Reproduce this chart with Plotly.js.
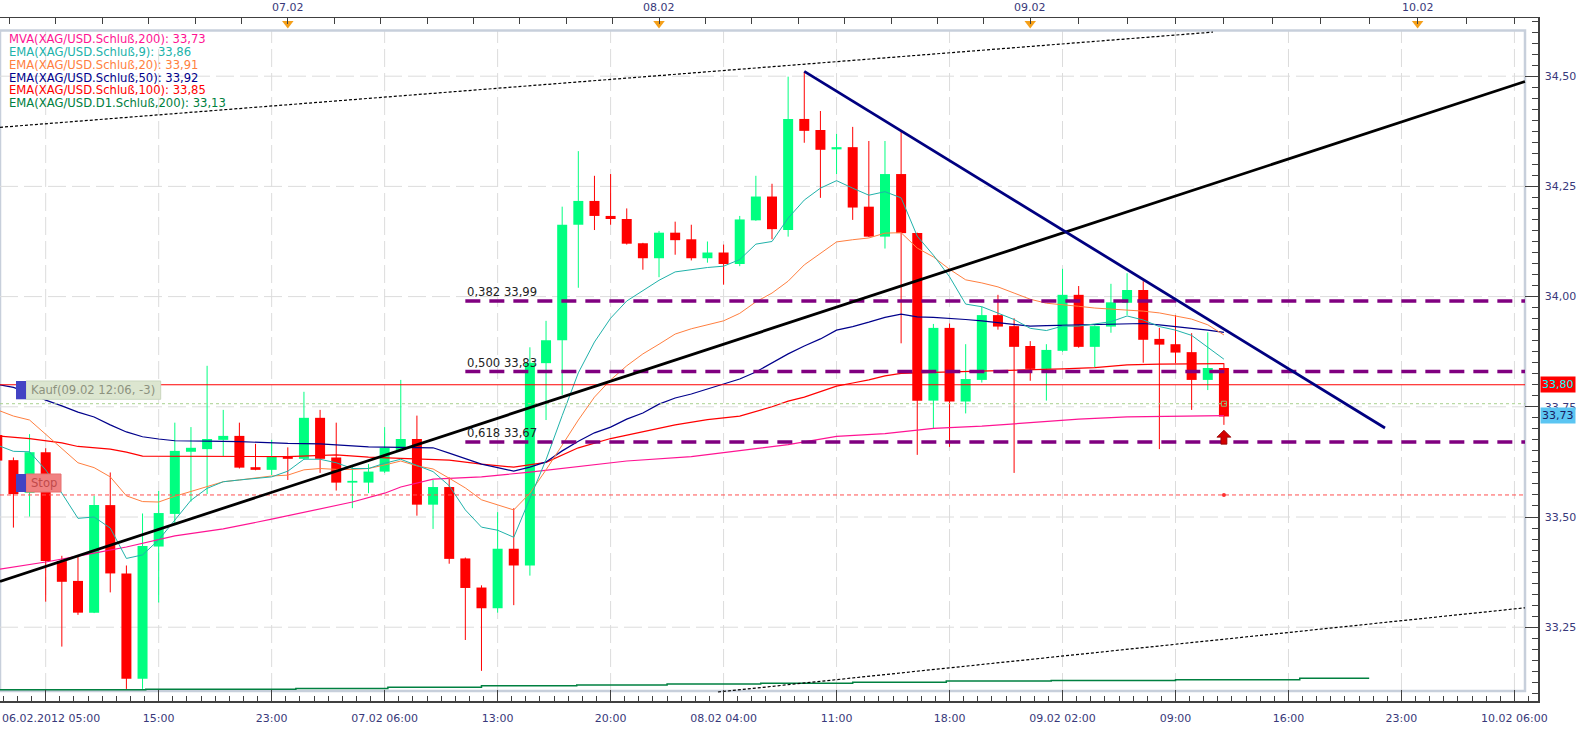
<!DOCTYPE html>
<html><head><meta charset="utf-8">
<script src="https://cdn.plot.ly/plotly-3.0.1.min.js"></script>
<style>html,body{margin:0;padding:0;background:#fff;overflow:hidden}#chart{width:1594px;height:730px}</style>
</head><body><div id="chart"></div>
<script>
// ================= DATA =================
// hourly candle slots (0 = 06.02.2012 05:00)
const idx = [-3,-2,-1,0,1,2,3,4,5,6,7,8,9,10,11,12,13,14,15,16,17,18,19,20,21,22,23,24,25,26,27,28,29,30,31,32,33,34,35,36,37,38,39,40,41,42,43,44,45,46,47,48,49,50,51,52,53,54,55,56,57,58,59,60,61,62,63,64,65,66,67,68,69,70,71,72,73];
const open = [33.686,33.629,33.555,33.647,33.400,33.355,33.283,33.527,33.372,33.133,33.433,33.507,33.648,33.654,33.675,33.684,33.613,33.607,33.638,33.632,33.725,33.635,33.578,33.578,33.603,33.652,33.677,33.528,33.568,33.406,33.340,33.293,33.428,33.390,33.849,33.901,34.163,34.217,34.183,34.176,34.121,34.087,34.145,34.130,34.087,34.100,34.074,34.173,34.227,34.151,34.403,34.378,34.334,34.339,34.204,34.136,34.278,34.144,33.764,33.929,33.762,33.811,33.958,33.933,33.888,33.836,33.877,34.004,33.886,33.932,33.986,34.015,33.904,33.892,33.874,33.811,33.838];
const high = [33.700,33.635,33.688,33.656,33.412,33.410,33.548,33.601,33.390,33.508,33.559,33.714,33.704,33.843,33.743,33.714,33.666,33.675,33.658,33.784,33.743,33.714,33.616,33.620,33.704,33.811,33.730,33.584,33.590,33.408,33.345,33.511,33.520,33.885,33.945,34.204,34.330,34.274,34.278,34.200,34.122,34.149,34.170,34.163,34.125,34.118,34.183,34.274,34.256,34.499,34.510,34.421,34.369,34.385,34.353,34.353,34.374,34.145,33.938,33.939,33.892,33.977,34.004,33.951,33.899,33.892,34.063,34.024,33.935,34.029,34.053,34.035,33.929,33.958,33.917,33.919,33.849];
const low = [33.620,33.476,33.501,33.308,33.206,33.278,33.282,33.329,33.110,33.110,33.306,33.482,33.535,33.552,33.638,33.610,33.606,33.595,33.584,33.630,33.600,33.560,33.520,33.554,33.600,33.650,33.503,33.473,33.394,33.221,33.151,33.283,33.300,33.367,33.720,33.777,34.020,34.151,34.163,34.118,34.061,34.044,34.095,34.082,34.077,34.027,34.069,34.172,34.130,34.136,34.349,34.224,34.278,34.174,34.135,34.109,33.894,33.641,33.701,33.659,33.735,33.805,33.925,33.600,33.809,33.764,33.875,33.884,33.840,33.918,33.958,33.850,33.654,33.849,33.743,33.788,33.709];
const close = [33.628,33.552,33.647,33.400,33.353,33.283,33.527,33.372,33.133,33.434,33.509,33.650,33.657,33.677,33.684,33.612,33.607,33.637,33.632,33.725,33.632,33.578,33.582,33.603,33.657,33.677,33.528,33.568,33.405,33.339,33.293,33.428,33.390,33.850,33.901,34.163,34.217,34.183,34.176,34.120,34.087,34.145,34.128,34.087,34.100,34.074,34.175,34.227,34.153,34.403,34.376,34.333,34.339,34.202,34.136,34.278,34.144,33.764,33.929,33.762,33.813,33.958,33.932,33.886,33.836,33.879,34.004,33.886,33.933,33.987,34.015,33.902,33.891,33.873,33.811,33.838,33.728];

// moving averages (read at candle slots)
const ema9 = [33.663,33.649,33.648,33.607,33.554,33.497,33.500,33.475,33.406,33.414,33.448,33.493,33.538,33.565,33.580,33.584,33.588,33.591,33.604,33.631,33.631,33.623,33.610,33.610,33.622,33.631,33.617,33.603,33.571,33.516,33.477,33.470,33.454,33.540,33.630,33.730,33.827,33.897,33.951,33.990,34.013,34.037,34.056,34.061,34.066,34.069,34.084,34.119,34.125,34.178,34.219,34.246,34.263,34.246,34.230,34.238,34.224,34.137,34.094,34.045,33.983,33.977,33.962,33.948,33.928,33.923,33.933,33.933,33.938,33.943,33.956,33.947,33.932,33.924,33.912,33.886,33.858];
const ema20 = [33.743,33.729,33.720,33.688,33.657,33.623,33.612,33.591,33.548,33.535,33.534,33.547,33.558,33.569,33.580,33.584,33.588,33.593,33.595,33.607,33.610,33.608,33.608,33.610,33.618,33.627,33.616,33.609,33.588,33.566,33.539,33.527,33.516,33.554,33.607,33.663,33.720,33.772,33.811,33.843,33.870,33.892,33.915,33.927,33.936,33.945,33.962,33.988,34.008,34.035,34.072,34.099,34.124,34.129,34.133,34.144,34.145,34.110,34.090,34.062,34.038,34.031,34.022,34.008,33.994,33.985,33.982,33.978,33.974,33.972,33.970,33.967,33.963,33.956,33.949,33.936,33.913];
const ema50X = [-3,-2,-1,0,1,2,3,4,5,6,7,8,10,12,15,17,20,22,23,24,25,26,27,28,29,30,31,32,33,34,35,36,37,38,39,40,41,42,43,44,45,46,47,48,49,50,51,52,53,54,55,56,57,58,59,60,61,62,64,66,68,69,70,71,72,73];
const ema50 = [33.801,33.794,33.781,33.765,33.752,33.738,33.727,33.709,33.693,33.682,33.677,33.673,33.672,33.671,33.667,33.666,33.659,33.658,33.659,33.657,33.645,33.632,33.620,33.612,33.604,33.613,33.625,33.650,33.672,33.691,33.704,33.722,33.736,33.756,33.770,33.779,33.790,33.802,33.813,33.829,33.849,33.870,33.888,33.904,33.924,33.932,33.942,33.953,33.960,33.954,33.953,33.951,33.948,33.945,33.941,33.938,33.933,33.934,33.936,33.937,33.939,33.936,33.932,33.929,33.924,33.919];
const ema100X = [-3,-1,1,2,4,5,6,10,15,18,20,22,25,27,29,31,33,35,37,39,41,43,45,46,47,48,49,50,51,52,53,55,57,60,63,65,67,69,73];
const ema100 = [33.684,33.678,33.668,33.660,33.654,33.647,33.638,33.637,33.637,33.641,33.636,33.633,33.629,33.620,33.613,33.624,33.657,33.678,33.693,33.709,33.721,33.729,33.750,33.763,33.772,33.784,33.797,33.804,33.811,33.820,33.826,33.828,33.830,33.832,33.836,33.839,33.845,33.847,33.848];
const mva200X = [-3,0,3,5,8,11,14,17,19,21,22,24,27,30,33,36,40,43,46,49,52,55,58,61,64,67,70,73];
const mva200 = [33.381,33.398,33.418,33.432,33.457,33.473,33.495,33.519,33.534,33.554,33.568,33.586,33.591,33.602,33.615,33.627,33.637,33.650,33.664,33.683,33.689,33.701,33.706,33.714,33.722,33.727,33.729,33.730];
const d1X = [-3,6.2,15.5,21.2,27.0,32.9,38.5,44.3,50.0,55.8,62.3,70.0,77.7,82.0];
const d1 = [33.108,33.109,33.111,33.114,33.117,33.119,33.121,33.123,33.125,33.128,33.129,33.131,33.134,33.134];

const maNames = ["MVA(XAG/USD.Schluß,200)","EMA(XAG/USD.Schluß,9)","EMA(XAG/USD.Schluß,20)","EMA(XAG/USD.Schluß,50)","EMA(XAG/USD.Schluß,100)","EMA(XAG/USD.D1.Schluß,200)"];

// drawn tools
const trendBlackX = [-2.83, 91.65], trendBlackY = [33.354, 34.488];
const trendNavyX = [47, 82.98], trendNavyY = [34.511, 33.702];
const channelUpX = [-2.83, 72.32], channelUpY = [34.384, 34.600];
const channelLowX = [41.65, 91.65], channelLowY = [33.103, 33.294];
const fibLevels = [33.99, 33.83, 33.67];
const fibRatios = ["0,382", "0,500", "0,618"];
const fibStart = 26;
const kaufLevel = 33.80, priceLevel = 33.757, stopLevel = 33.55, lastTag = 33.73;
const kaufText = "Kauf(09.02 12:06, -3)", stopText = "Stop";
const arrowSlot = 73, arrowTip = 33.697;

// axis labels
const tickIdx = [0,7,14,21,28,35,42,49,56,63,70,77,84,91];
const tickLabels = ["06.02.2012 05:00","15:00","23:00","07.02 06:00","13:00","20:00","08.02 04:00","11:00","18:00","09.02 02:00","09:00","16:00","23:00","10.02 06:00"];
const dayIdx = [15,38,61,85];
const dayLabels = ["07.02","08.02","09.02","10.02"];

// ================= LAYOUT HELPERS =================
const PW = 1538, PT = 18, PB = 701;
const xRange = [-2.8315, -2.8315 + 1538/16.14];
const yRange = [33.0826, 34.6320];
const frame = {left: 0, right: 1525, top: 30.5, bottom: 691};
const ix = p => xRange[0] + p*(xRange[1]-xRange[0])/PW;
const pxOf = i => (i - xRange[0])*PW/(xRange[1]-xRange[0]);
const vy = p => yRange[1] - (p-PT)*(yRange[1]-yRange[0])/(PB-PT);
const paperX = p => p/PW;
const paperY = p => (PB-p)/(PB-PT);
const fmt = v => v.toFixed(2).replace('.', ',');

const GREEN = '#00ff80', RED = '#ff0000';
const AXC = '#404040', TXT = '#38387a', FONT = 'DejaVu Sans';
const frameRightIdx = ix(frame.right);

const bull = idx.map((_, k) => close[k] >= open[k]);
function wick(up){
  const x=[], y=[];
  idx.forEach((v,k)=>{ if(bull[k]===up){ x.push(v,v,null); y.push(low[k],high[k],null);} });
  return {type:'scatter', mode:'lines', x, y, line:{color: up?GREEN:RED, width:1}, hoverinfo:'skip'};
}
function body(up){
  const x=[], b=[], h=[];
  idx.forEach((v,k)=>{ if(bull[k]===up){ x.push(v); b.push(Math.min(open[k],close[k])); h.push(Math.abs(close[k]-open[k])); } });
  return {type:'bar', x, base:b, y:h, width:0.62, marker:{color: up?GREEN:RED, line:{width:0}}, hoverinfo:'skip'};
}
const line = (x, y, color, width, dash, shape) => ({type:'scatter', mode:'lines', x, y, line:{color, width, dash: dash||'solid', shape: shape||'linear'}, hoverinfo:'skip'});
const hline = (v, color, width, dash) => line([xRange[0], frameRightIdx], [v, v], color, width, dash);

const maColors = ['#ff1493','#20b2aa','#ff7f40','#00008b','#ff0000','#008040'];
const maLast = [mva200[mva200.length-1], ema9[ema9.length-1], ema20[ema20.length-1], ema50[ema50.length-1], ema100[ema100.length-1], d1[d1.length-1]];

const traces = [
  line(d1X, d1, maColors[5], 1.5, 'solid', 'hv'),
  wick(true), wick(false), body(true), body(false),
  line(mva200X, mva200, maColors[0], 1.2),
  line(ema100X, ema100, maColors[4], 1.2),
  line(ema50X, ema50, maColors[3], 1.2),
  line(idx, ema20, maColors[2], 1),
  line(idx, ema9, maColors[1], 1),
  hline(priceLevel, '#a9d18e', 1, '3px,3px'),
  hline(stopLevel, '#ff5050', 1, '4px,3px'),
  hline(kaufLevel, '#ff0000', 1.2),
];
fibLevels.forEach(v => traces.push(line([fibStart, frameRightIdx], [v, v], '#800080', 3.5, '15px,9px')));
traces.push(line(channelUpX, channelUpY, '#000000', 1.2, '3px,2px'));
traces.push(line(channelLowX, channelLowY, '#000000', 1.2, '3px,2px'));
traces.push(line(trendBlackX, trendBlackY, '#000000', 2.8));
traces.push(line(trendNavyX, trendNavyY, '#000080', 2.8));
traces.push({type:'scatter', mode:'markers', x:[arrowSlot], y:[priceLevel], marker:{symbol:'square-open', size:5, color:'#8fbf70'}, hoverinfo:'skip'});
traces.push({type:'scatter', mode:'markers', x:[arrowSlot], y:[stopLevel], marker:{symbol:'circle', size:4, color:'#ff3030'}, hoverinfo:'skip'});
traces.push({type:'scatter', mode:'markers', xaxis:'x2', x:dayIdx, y:dayIdx.map(()=>vy(23.5)), cliponaxis:false,
  marker:{symbol:'triangle-down', size:10, color:'#f5a01a', line:{width:0}}, hoverinfo:'skip'});

// top-axis 3-hour ticks
const topTicks = [];
for (let d=0; d<dayIdx.length; d++){
  const step = (d<dayIdx.length-1 ? dayIdx[d+1]-dayIdx[d] : dayIdx[d]-dayIdx[d-1])/8;
  for (let j=0; j<8; j++) topTicks.push(dayIdx[d]+j*step);
}
{ const s0=(dayIdx[1]-dayIdx[0])/8; for (let t=dayIdx[0]-s0; t>xRange[0]; t-=s0) topTicks.push(t); }

// shapes
const shapes = [];
const gridLine = {color:'#dcdcdc', width:1, dash:'18px,6px'};
[33.25,33.5,33.75,34,34.25,34.5].forEach(v => shapes.push({type:'line', layer:'below', xref:'x', yref:'y', x0:xRange[0], x1:frameRightIdx, y0:v, y1:v, line:gridLine}));
tickIdx.forEach(v => shapes.push({type:'line', layer:'below', xref:'x', yref:'paper', x0:v, x1:v, y0:paperY(frame.bottom), y1:paperY(frame.top), line:gridLine}));
shapes.push({type:'rect', layer:'below', xref:'paper', yref:'paper', x0:paperX(frame.left), x1:paperX(frame.right), y0:paperY(frame.bottom), y1:paperY(frame.top), line:{color:'#c7cfdb', width:2.5}});
// order-tool boxes
shapes.push({type:'rect', xref:'paper', yref:'paper', x0:paperX(26), x1:paperX(160.7), y0:paperY(399.3), y1:paperY(381), fillcolor:'#dce6d0', line:{color:'#c9d6bd', width:1}});
shapes.push({type:'rect', xref:'paper', yref:'paper', x0:paperX(16), x1:paperX(26), y0:paperY(399.3), y1:paperY(381), fillcolor:'#4343c4', line:{width:0}});
shapes.push({type:'rect', xref:'paper', yref:'paper', x0:paperX(26), x1:paperX(61), y0:paperY(492), y1:paperY(474), fillcolor:'#f08282', line:{color:'#e87070', width:1}});
shapes.push({type:'rect', xref:'paper', yref:'paper', x0:paperX(16), x1:paperX(26), y0:paperY(492), y1:paperY(474), fillcolor:'#4343c4', line:{width:0}});
// red arrow below last candle
{
  const cx = pxOf(arrowSlot);
  const tipPy = PT + (yRange[1]-arrowTip)*(PB-PT)/(yRange[1]-yRange[0]);
  const P = (dx, dy) => ix(cx+dx) + ',' + vy(tipPy+dy);
  shapes.push({type:'path', xref:'x', yref:'y', path:'M'+P(0,0)+' L'+P(7,7)+' L'+P(3,7)+' L'+P(3,14)+' L'+P(-3,14)+' L'+P(-3,7)+' L'+P(-7,7)+' Z', fillcolor:'#d40000', line:{color:'#900000', width:0.8}});
}

// annotations
const annotations = [];
maNames.forEach((n,k) => annotations.push({xref:'paper', yref:'paper', x:paperX(7), y:paperY(39.3+k*12.8), xanchor:'left', yanchor:'middle', showarrow:false,
  text: n + ': ' + fmt(maLast[k]), font:{family:FONT, size:11.6, color:maColors[k]}}));
fibLevels.forEach((v,k) => annotations.push({xref:'x', yref:'y', x:fibStart, y:v, xanchor:'left', yanchor:'bottom', yshift:0, showarrow:false,
  text: fibRatios[k] + ' ' + fmt(v), font:{family:FONT, size:11.6, color:'#222222'}}));
annotations.push({xref:'paper', yref:'paper', x:paperX(29), y:paperY(390.2), xanchor:'left', yanchor:'middle', showarrow:false, text:kaufText, font:{family:FONT, size:11.6, color:'#8d927f'}});
annotations.push({xref:'paper', yref:'paper', x:paperX(29), y:paperY(483), xanchor:'left', yanchor:'middle', showarrow:false, text:stopText, font:{family:FONT, size:11.6, color:'#c04a4a'}});
annotations.push({xref:'paper', yref:'y', x:paperX(1540), y:kaufLevel, xanchor:'left', yanchor:'middle', showarrow:false, text:fmt(kaufLevel), bgcolor:'#ff0000', borderpad:1, font:{family:FONT, size:11, color:'#00ffff'}});
annotations.push({xref:'paper', yref:'y', x:paperX(1540), y:lastTag, xanchor:'left', yanchor:'middle', showarrow:false, text:fmt(lastTag), bgcolor:'#5bc5f2', borderpad:1, font:{family:FONT, size:11, color:'#1a1a60'}});
dayIdx.forEach((d,k) => annotations.push({xref:'x', yref:'paper', x:d, y:paperY(8), xanchor:'center', yanchor:'middle', showarrow:false, text:dayLabels[k], font:{family:FONT, size:11, color:TXT}}));
annotations.push({xref:'paper', yref:'paper', x:paperX(0), y:paperY(718), xanchor:'left', yanchor:'middle', showarrow:false, text:tickLabels[0], font:{family:FONT, size:11, color:TXT}});

const layout = {
  width:1594, height:730, margin:{l:0, r:56, t:18, b:29, pad:0},
  paper_bgcolor:'#ffffff', plot_bgcolor:'#ffffff', showlegend:false, hovermode:false,
  separators:',.', barmode:'overlay',
  font:{family:FONT, size:11, color:TXT},
  xaxis:{range:xRange, showgrid:false, zeroline:false, showline:true, linecolor:AXC, linewidth:1.5,
    ticks:'inside', ticklen:11, tickwidth:1, tickcolor:AXC, tickmode:'array', tickvals:tickIdx,
    ticktext: tickLabels.map((t,k)=> k===0 ? '' : t), ticklabelstandoff:6, ticklabeloverflow:'allow',
    tickfont:{family:FONT, size:11, color:TXT},
    minor:{tickmode:'linear', tick0:0, dtick:0.875, ticks:'inside', ticklen:5, tickwidth:1, tickcolor:AXC, showgrid:false}},
  xaxis2:{overlaying:'x', side:'top', anchor:'y', range:xRange, showgrid:false, zeroline:false, showline:true,
    linecolor:AXC, linewidth:1.5, ticks:'inside', ticklen:6, tickwidth:1, tickcolor:AXC, tickmode:'array', tickvals:topTicks, showticklabels:false},
  yaxis:{range:yRange, side:'right', showgrid:false, zeroline:false, showline:true, linecolor:AXC, linewidth:1.5,
    ticks:'inside', ticklen:13, tickwidth:1, tickcolor:AXC, tickmode:'linear', tick0:33.25, dtick:0.25, tickformat:'.2f',
    ticklabelstandoff:3, tickfont:{family:FONT, size:11, color:TXT},
    minor:{tickmode:'linear', tick0:33.25, dtick:0.025, ticks:'inside', ticklen:6, tickwidth:1, tickcolor:AXC, showgrid:false}},
  shapes, annotations
};

Plotly.newPlot('chart', traces, layout, {staticPlot:true, displayModeBar:false});
</script>
</body></html>
